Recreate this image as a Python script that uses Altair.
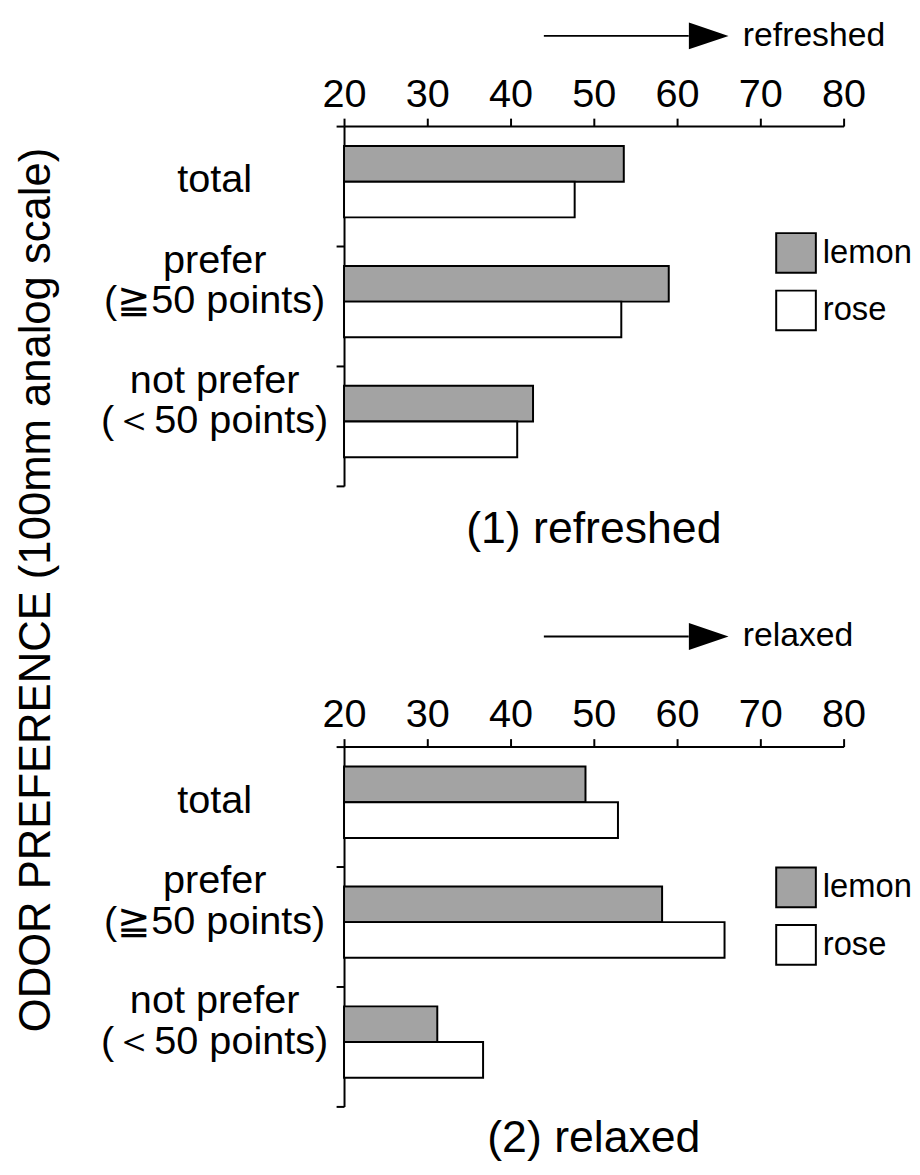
import altair as alt
import pandas as pd

FONT = "Liberation Sans"

# ---- data ----
categories = ["total", "prefer|(≧50 points)", "not prefer|(＜50 points)"]
odors = ["lemon", "rose"]
refreshed_lemon = [53.6, 59.0, 42.7]
refreshed_rose = [47.7, 53.3, 40.8]
relaxed_lemon = [49.0, 58.2, 31.2]
relaxed_rose = [52.9, 65.7, 36.7]
x_ticks = [20, 30, 40, 50, 60, 70, 80]

# arrow annotation (data units on the x scale)
arrow_start, arrow_end, arrow_head, arrow_text = 44.0, 61.4, 63.8, 67.9


def panel(lemon, rose, title, arrow_label, arrow_y, title_offset, legend_x, legend_y):
    rows = []
    for c, l, r in zip(categories, lemon, rose):
        rows.append({"category": c, "odor": "lemon", "value": l})
        rows.append({"category": c, "odor": "rose", "value": r})
    df = pd.DataFrame(rows)

    xscale = alt.Scale(domain=[20, 80], zero=False, nice=False, padding=0)
    x_axis = alt.Axis(
        title=None,
        orient="top",
        values=x_ticks,
        grid=False,
        domainColor="black",
        domainWidth=2,
        tickColor="black",
        tickWidth=2,
        tickSize=8,
        labelFontSize=40,
        labelFont=FONT,
        labelColor="black",
        labelPadding=4,
        labelFlush=False,
    )

    bars = alt.Chart(df).mark_bar(stroke="black", strokeWidth=2).encode(
        y=alt.Y(
            "category:N",
            sort=categories,
            scale=alt.Scale(paddingInner=0, paddingOuter=0),
            axis=alt.Axis(
                title=None,
                orient="left",
                domainColor="black",
                domainWidth=2,
                tickColor="black",
                tickWidth=2,
                tickSize=8,
                tickBand="extent",
                labelExpr="split(datum.label, '|')",
                labelAlign="center",
                labelBaseline={
                    "condition": {"test": "datum.value == 'total'", "value": "top"},
                    "value": "bottom",
                },
                labelOffset=-26,
                labelPadding=123,
                labelFontSize=40,
                labelLineHeight=41,
                labelFont=FONT,
                labelColor="black",
                labelLimit=0,
            ),
        ),
        yOffset=alt.YOffset(
            "odor:N",
            sort=odors,
            scale=alt.Scale(paddingInner=0, paddingOuter=0.68, align=0.41),
        ),
        x=alt.X("value:Q", scale=xscale, axis=x_axis),
        x2=alt.datum(20),
        fill=alt.Fill(
            "odor:N",
            scale=alt.Scale(domain=odors, range=["#a3a3a3", "white"]),
            legend=alt.Legend(
                title=None,
                orient="none",
                legendX=legend_x,
                legendY=legend_y,
                symbolType="square",
                symbolSize=1600,
                symbolStrokeColor="black",
                symbolStrokeWidth=2,
                symbolOpacity=1,
                labelFontSize=33,
                labelFont=FONT,
                labelColor="black",
                labelOffset=6,
                rowPadding=10,
                padding=0,
            ),
        ),
    )

    ann = pd.DataFrame(
        [{"start": arrow_start, "end": arrow_end, "head": arrow_head,
          "tx": arrow_text, "label": arrow_label}]
    )
    base = alt.Chart(ann)
    line = base.mark_rule(color="black", strokeWidth=2).encode(
        x=alt.X("start:Q", scale=xscale, axis=x_axis),
        x2="end:Q",
        y=alt.value(arrow_y),
    )
    head = base.mark_point(
        shape="M-1,-0.68L1,0L-1,0.68Z", filled=True, size=1600, color="black", opacity=1
    ).encode(x=alt.X("head:Q", scale=xscale, axis=x_axis), y=alt.value(arrow_y))
    text = base.mark_text(
        align="left", baseline="middle", fontSize=34, font=FONT, color="black"
    ).encode(x=alt.X("tx:Q", scale=xscale, axis=x_axis), y=alt.value(arrow_y), text="label:N")

    return alt.layer(bars, line, head, text).properties(
        width=504,
        height=363,
        title=alt.TitleParams(
            text=title,
            orient="bottom",
            anchor="middle",
            fontSize=45,
            fontWeight="normal",
            font=FONT,
            color="black",
            offset=title_offset,
        ),
    )


top = panel(refreshed_lemon, refreshed_rose, "(1) refreshed", "refreshed", -91, 21, 435, 107)
bottom = panel(relaxed_lemon, relaxed_rose, "(2) relaxed", "relaxed", -111, 9, 435, 121)

chart = (
    alt.vconcat(
        top,
        bottom,
        spacing=68,
        padding={"left": 7, "top": 6, "right": 0, "bottom": 0},
        title=alt.TitleParams(
            text="ODOR PREFERENCE (100mm analog scale)",
            orient="left",
            anchor="middle",
            fontSize=44,
            fontWeight="normal",
            font=FONT,
            color="black",
            offset=42,
        ),
    )
    .resolve_scale(fill="independent")
    .resolve_legend(fill="independent")
    .configure_view(strokeWidth=0)
)

chart.save("out.html", embed_options={"renderer": "svg", "actions": False})
